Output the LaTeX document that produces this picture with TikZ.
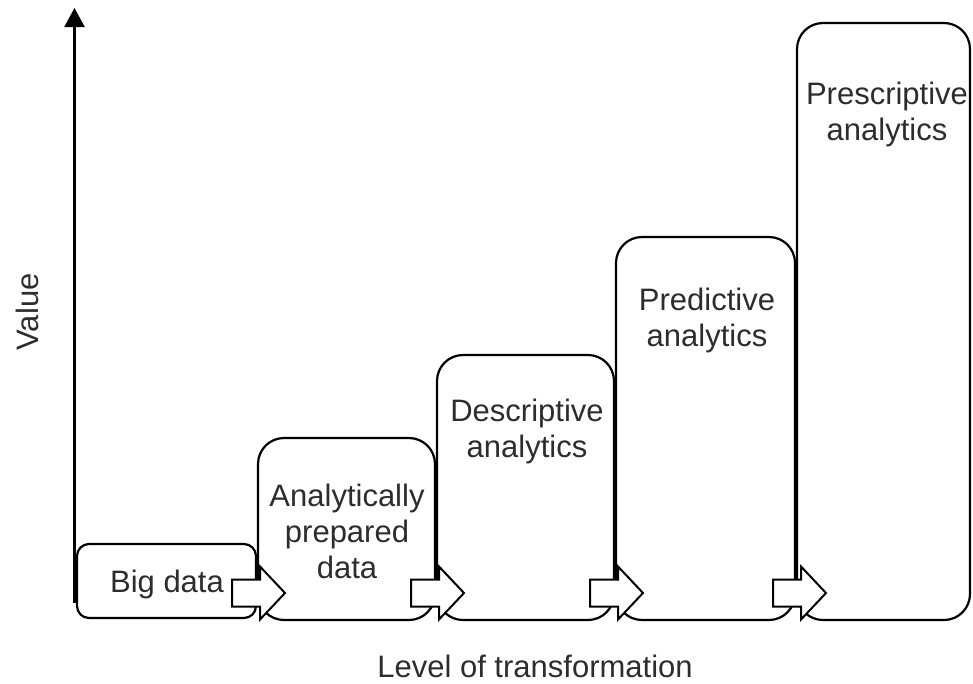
\documentclass[tikz,border=0pt]{standalone}
\usepackage{fontspec}
\setmainfont{Liberation Sans}
\usetikzlibrary{arrows.meta,calc}
\definecolor{inkgray}{RGB}{45,45,45}
\begin{document}
\begin{tikzpicture}[x=1pt,y=-1pt,
  stage/.style={draw=black, line width=2.2pt, fill=white, rounded corners=#1},
  stage/.default=26pt,
  label/.style={font=\fontsize{31}{36}\selectfont, text=inkgray, align=center, inner sep=0pt},
  flow/.style={draw=black, line width=2pt, fill=white, line join=miter},
  axis/.style={draw=black, line width=2.4pt, -{Triangle[width=20pt,length=19pt]}}]
\useasboundingbox (0,0) rectangle (973,683);

% value axis
\coordinate (axbot) at (74.5,603);
\coordinate (axtop) at (74.5,8);
\draw[axis] (axbot) -- (axtop);

% stages, growing in value
\draw[stage=12pt] (77,544) rectangle (256,618);
\draw[stage] (258,438) rectangle (435,620);
\draw[stage] (437,355) rectangle (614,620);
\draw[stage] (616,237) rectangle (795,620);
\draw[stage] (797,23) rectangle (970,620);

\node[label] (bigdata) at (167,584) {Big data};
\node[label] (prepared) at (347,531) {Analytically\\prepared\\data};
\node[label] (descriptive) at (527,431) {Descriptive\\analytics};
\node[label] (predictive) at (707,320) {Predictive\\analytics};
\node[label] (prescriptive) at (887,114) {Prescriptive\\analytics};

% block arrows between consecutive stages
\foreach \b [count=\i] in {257,436,615,798}{
  \coordinate (join\i) at (\b,593);
  \draw[flow] ($(join\i)+(-25,-13.5)$) -- ($(join\i)+(3,-13.5)$)
    -- ($(join\i)+(3,-26.5)$) -- ($(join\i)+(28,0)$)
    -- ($(join\i)+(3,26.5)$) -- ($(join\i)+(3,13.5)$)
    -- ($(join\i)+(-25,13.5)$) -- cycle;
}

% axis captions
\node[label, rotate=90] (valuecap) at (27,312) {Value};
\node[label] (levelcap) at (535,666) {Level of transformation};
\end{tikzpicture}
\end{document}
